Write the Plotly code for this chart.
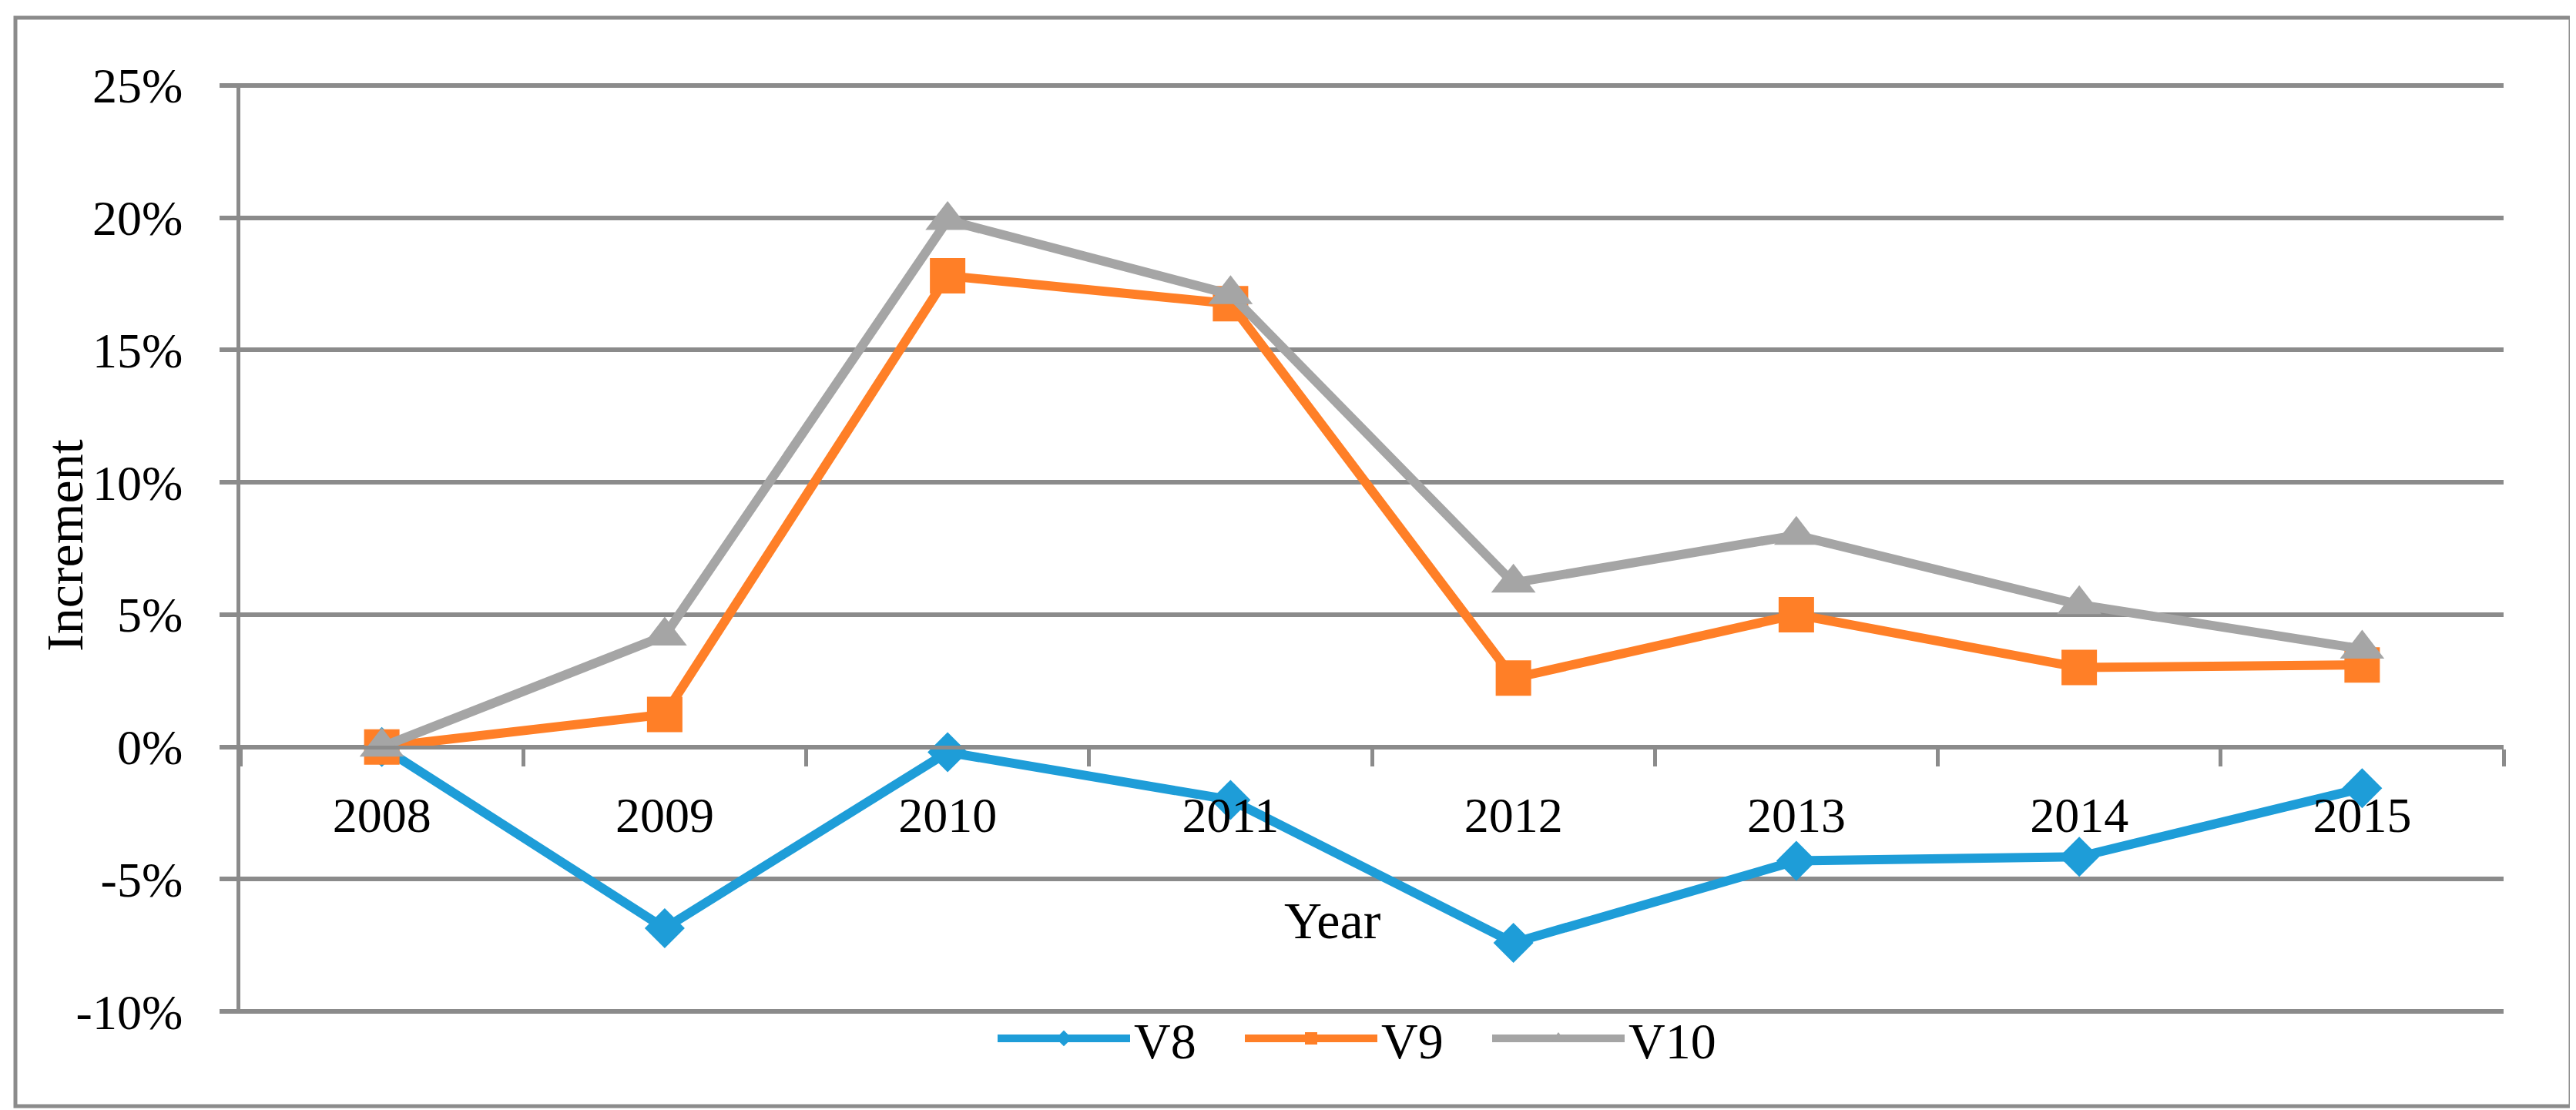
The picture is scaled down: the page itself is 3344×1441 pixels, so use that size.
import plotly.graph_objects as go

years = ["2008", "2009", "2010", "2011", "2012", "2013", "2014", "2015"]
v8 = [0.0, -6.85, -0.2, -2.0, -7.4, -4.3, -4.15, -1.56]
v9 = [0.0, 1.23, 17.8, 16.75, 2.6, 5.0, 3.0, 3.1]
v10 = [0.0, 4.2, 19.9, 17.1, 6.2, 8.0, 5.38, 3.7]
series_names = ["V8", "V9", "V10"]
y_tick_vals = [-10, -5, 0, 5, 10, 15, 20, 25]
y_tick_text = ["-10%", "-5%", "0%", "5%", "10%", "15%", "20%", "25%"]

W, H = 3344, 1441
ymin, ymax = -10.08, 25.08
# plot area pixel bounds for y = -10 .. 25 at 1305 .. 103
PX_PER = (1305 - 103) / 35.0
T = int(round(103 - (ymax - 25) * PX_PER))
Bpix = 1305 + (-10 - ymin) * PX_PER
L, R = 304, 102
B = int(round(H - Bpix))
pw, ph = W - L - R, H - T - B
GRID = "#8B8B8B"
FONT = "Liberation Serif"

def px_x(x):
    return (x - L) / pw

def px_y(y):
    return (H - B - y) / ph

fig = go.Figure()
styles = [
    dict(color="#1E9DD8", symbol="diamond", size=40),
    dict(color="#FF7F27", symbol="square", size=46),
    dict(color="#A5A5A5", symbol="triangle-up", size=50),
]
for name, vals, st in zip(series_names, [v8, v9, v10], styles):
    fig.add_trace(go.Scatter(
        x=years, y=vals, name=name, mode="lines+markers",
        line=dict(color=st["color"], width=12),
        marker=dict(color=st["color"], symbol=st["symbol"], size=st["size"],
                    line=dict(width=0)),
    ))

fig.update_layout(
    width=W, height=H,
    margin=dict(l=L, r=R, t=T, b=B, pad=0),
    paper_bgcolor="white", plot_bgcolor="white",
    font=dict(family=FONT, size=66, color="black"),
    showlegend=True,
    legend=dict(orientation="h", x=px_x(1282), xanchor="left",
                y=px_y(1340), yanchor="middle",
                font=dict(family=FONT, size=66, color="black"),
                itemwidth=172, entrywidth=134, entrywidthmode="pixels",
                bgcolor="rgba(0,0,0,0)"),
    xaxis=dict(type="category", range=[-0.5, 7.5], anchor="free",
               position=(0 - ymin) / (ymax - ymin),
               showline=True, linecolor=GRID, linewidth=5,
               showgrid=False, zeroline=False,
               tickson="boundaries", ticks="outside", ticklen=22,
               tickwidth=5, tickcolor=GRID,
               tickfont=dict(family=FONT, size=64, color="black"),
               ticklabelstandoff=31),
    yaxis=dict(range=[ymin, ymax], tickvals=y_tick_vals, ticktext=y_tick_text,
               showline=True, linecolor=GRID, linewidth=5,
               showgrid=True, gridcolor=GRID, gridwidth=5.5,
               zeroline=False, ticks="outside", ticklen=22, tickwidth=5.5,
               tickcolor=GRID,
               tickfont=dict(family=FONT, size=64, color="black"),
               ticklabelstandoff=35),
    annotations=[
        dict(text="Year", xref="paper", yref="paper", x=px_x(1722), y=px_y(1187),
             xanchor="center", yanchor="middle", showarrow=False,
             font=dict(family=FONT, size=68, color="black")),
        dict(text="Increment", xref="paper", yref="paper", x=px_x(76), y=px_y(700),
             xanchor="center", yanchor="middle", showarrow=False, textangle=-90,
             font=dict(family=FONT, size=68, color="black")),
    ],
    shapes=[dict(type="rect", xref="paper", yref="paper",
                 x0=px_x(12), x1=px_x(3329), y0=px_y(1428), y1=px_y(15),
                 line=dict(color=GRID, width=5), fillcolor="rgba(0,0,0,0)",
                 layer="below")],
)

fig.write_html("out.html")
